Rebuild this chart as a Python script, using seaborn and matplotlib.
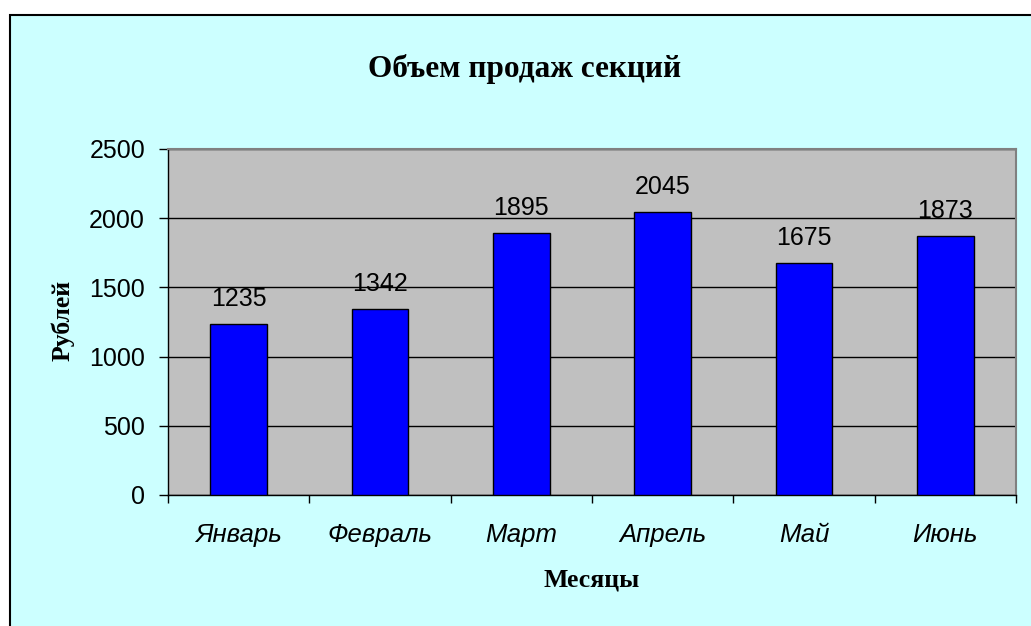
import matplotlib
matplotlib.use("Agg")
import matplotlib.pyplot as plt
import seaborn as sns
import pandas as pd
from matplotlib.patches import Rectangle

# data
months = ["Январь", "Февраль", "Март", "Апрель", "Май", "Июнь"]
sales = [1235, 1342, 1895, 2045, 1675, 1873]
yticks = [0, 500, 1000, 1500, 2000, 2500]

df = pd.DataFrame({"month": months, "sales": sales})

sns.set_style("white")
plt.rcParams["font.family"] = ["Liberation Sans", "DejaVu Sans"]
plt.rcParams["text.color"] = "black"
plt.rcParams["axes.labelcolor"] = "black"
plt.rcParams["xtick.color"] = "black"
plt.rcParams["ytick.color"] = "black"

serif = ["Liberation Serif", "DejaVu Serif"]

fig = plt.figure(figsize=(10.31, 6.26), dpi=100, facecolor="white")

# cyan chart area with black border (clipped at right/bottom)
fig.patches.append(Rectangle((10 / 1031, -0.05), 1.1, 1 - 15 / 626 + 0.05,
                             transform=fig.transFigure, facecolor="#CCFFFF",
                             edgecolor="black", linewidth=1.5, zorder=-10))

ax = fig.add_axes([168 / 1031, 1 - 495 / 626, (1016 - 168) / 1031, (495 - 149) / 626])
ax.set_zorder(1)
ax.set_facecolor("#C0C0C0")

sns.barplot(data=df, x="month", y="sales", color="#0000FF", edgecolor="black",
            linewidth=1, width=0.4, saturation=1, ax=ax, zorder=3)

ax.set_ylim(0, 2500)
ax.set_xlim(-0.5, 5.5)
ax.set_yticks(yticks)
ax.set_yticklabels([str(t) for t in yticks], fontsize=18)
ax.yaxis.grid(True, color="black", linewidth=1)
ax.set_axisbelow(True)

# category labels at centers, tick marks at boundaries
ax.set_xticks(range(len(months)))
ax.set_xticklabels(months, fontsize=18.5, style="italic")
ax.tick_params(axis="x", which="major", length=0, pad=20)
ax.set_xticks([i - 0.5 for i in range(len(months) + 1)], minor=True)
ax.tick_params(axis="x", which="minor", length=6, width=1, color="black", direction="out",
               bottom=True)
ax.tick_params(axis="y", length=6.5, width=1, color="black", direction="out", pad=10, left=True)

for s in ["left", "bottom"]:
    ax.spines[s].set_color("black")
    ax.spines[s].set_linewidth(1)
for s in ["top", "right"]:
    ax.spines[s].set_color("#808080")
    ax.spines[s].set_linewidth(1.5)

for i, v in enumerate(sales):
    ax.annotate(str(v), (i, v), xytext=(0, 18), textcoords="offset points",
                ha="center", va="center", fontsize=18, zorder=5)

ax.set_xlabel("")
ax.set_ylabel("")
fig.text(592 / 1031, 1 - 580 / 626, "Месяцы", family=serif, fontweight="bold",
         fontsize=18.5, ha="center", va="center")
fig.text(63 / 1031, 1 - 320 / 626, "Рублей", family=serif, fontweight="bold",
         fontsize=18.5, ha="center", va="center", rotation=90)

fig.text(525 / 1031, 1 - 69 / 626, "Объем продаж секций", family=serif,
         fontweight="bold", fontsize=22.5, ha="center", va="center")

fig.savefig("out.png", dpi=100, facecolor=fig.get_facecolor())
